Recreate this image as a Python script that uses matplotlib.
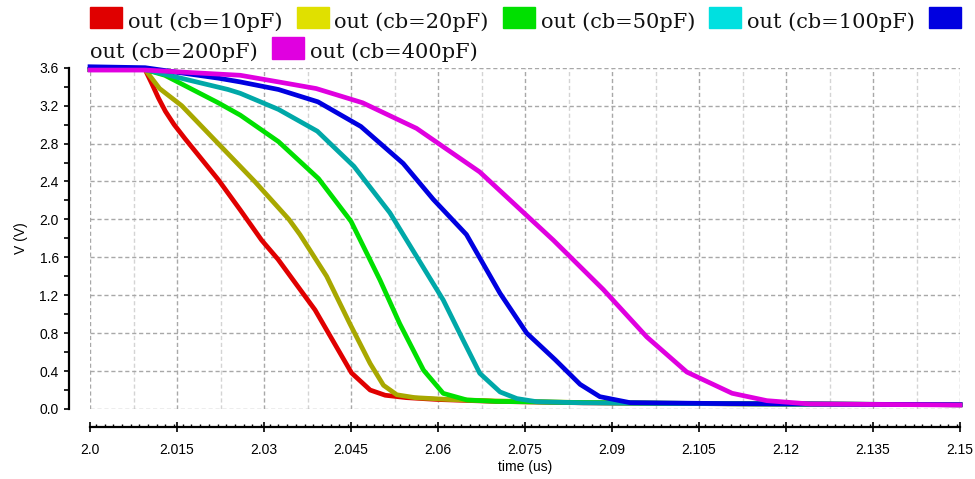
import numpy as np
import matplotlib
matplotlib.use("Agg")
import matplotlib.pyplot as plt
from matplotlib.patches import Rectangle
from matplotlib.ticker import MultipleLocator, FixedLocator

# transient response of "out" for several bus capacitances (time in us, volts)
t_10 = [2.0, 2.0095, 2.0106, 2.0118, 2.013, 2.0145, 2.0164, 2.0221, 2.0259, 2.0296,
        2.0324, 2.0388, 2.0451, 2.0483, 2.0509, 2.0545, 2.06, 2.07, 2.085, 2.11, 2.15]
v_10 = [3.58, 3.58, 3.44, 3.28, 3.14, 3.00, 2.85, 2.42, 2.10, 1.78,
        1.58, 1.045, 0.38, 0.20, 0.145, 0.12, 0.10, 0.08, 0.065, 0.055, 0.045]

t_20 = [2.0, 2.0095, 2.012, 2.0158, 2.0221, 2.0284, 2.0343, 2.0362, 2.0408, 2.0448,
        2.0483, 2.0506, 2.0529, 2.056, 2.062, 2.07, 2.085, 2.11, 2.15]
v_20 = [3.58, 3.58, 3.38, 3.20, 2.80, 2.40, 2.00, 1.84, 1.40, 0.90,
        0.48, 0.25, 0.15, 0.12, 0.10, 0.085, 0.068, 0.056, 0.045]

t_50 = [2.0, 2.0095, 2.0129, 2.0221, 2.0259, 2.0325, 2.0394, 2.045, 2.05, 2.0534,
        2.0575, 2.0609, 2.065, 2.07, 2.085, 2.11, 2.15]
v_50 = [3.58, 3.58, 3.52, 3.23, 3.10, 2.82, 2.43, 1.98, 1.36, 0.90,
        0.41, 0.165, 0.095, 0.08, 0.068, 0.056, 0.045]

t_100 = [2.0, 2.0095, 2.0238, 2.0259, 2.0325, 2.0392, 2.0455, 2.0517, 2.0563, 2.0609,
         2.0643, 2.0672, 2.0707, 2.0736, 2.077, 2.085, 2.11, 2.15]
v_100 = [3.58, 3.58, 3.37, 3.33, 3.16, 2.93, 2.56, 2.07, 1.61, 1.15,
         0.73, 0.377, 0.18, 0.11, 0.077, 0.065, 0.055, 0.045]

t_200 = [2.0, 2.0095, 2.0221, 2.0259, 2.0325, 2.0393, 2.0467, 2.054, 2.0592, 2.0649,
         2.0707, 2.0753, 2.0802, 2.0845, 2.0879, 2.0931, 2.11, 2.15]
v_200 = [3.61, 3.60, 3.49, 3.45, 3.37, 3.24, 2.98, 2.59, 2.21, 1.84,
         1.22, 0.80, 0.52, 0.26, 0.13, 0.067, 0.057, 0.045]

t_400 = [2.0, 2.0095, 2.0259, 2.0325, 2.039, 2.047, 2.0563, 2.0672, 2.0799, 2.0885,
         2.096, 2.1029, 2.1107, 2.1167, 2.1241, 2.15]
v_400 = [3.575, 3.575, 3.52, 3.45, 3.38, 3.23, 2.96, 2.50, 1.78, 1.26,
         0.76, 0.39, 0.166, 0.088, 0.053, 0.042]

labels = ["out (cb=10pF)", "out (cb=20pF)", "out (cb=50pF)",
          "out (cb=100pF)", "out (cb=200pF)", "out (cb=400pF)"]
line_colors = ["#e00000", "#a8a800", "#00e000", "#00a8a8", "#0000e0", "#e000e0"]
key_colors = ["#e00000", "#e0e000", "#00e000", "#00e0e0", "#0000e0", "#e000e0"]

x_ticks = [2.0, 2.015, 2.03, 2.045, 2.06, 2.075, 2.09, 2.105, 2.12, 2.135, 2.15]
x_ticklabels = ["2.0", "2.015", "2.03", "2.045", "2.06", "2.075",
                "2.09", "2.105", "2.12", "2.135", "2.15"]
y_ticks = [0.0, 0.4, 0.8, 1.2, 1.6, 2.0, 2.4, 2.8, 3.2, 3.6]

series = [(t_10, v_10), (t_20, v_20), (t_50, v_50),
          (t_100, v_100), (t_200, v_200), (t_400, v_400)]

plt.rcParams["font.family"] = ["Liberation Sans", "DejaVu Sans"]
plt.rcParams["font.size"] = 10

W, H = 975, 479
fig = plt.figure(figsize=(W / 100, H / 100), dpi=100)
ax = fig.add_axes([90 / W, 1 - 409 / H, 870 / W, (409 - 67.7) / H])

for (t, v), c in zip(series, line_colors):
    ax.plot(t, v, color=c, lw=3.4, clip_on=False, zorder=3)

ax.set_xlim(2.0, 2.15)
ax.set_ylim(0.0, 3.6)

ax.xaxis.set_major_locator(FixedLocator(x_ticks))
ax.set_xticklabels(x_ticklabels)
ax.xaxis.set_minor_locator(MultipleLocator(0.0015))
ax.yaxis.set_major_locator(FixedLocator(y_ticks))
ax.set_yticklabels([f"{y:.1f}" for y in y_ticks])
ax.yaxis.set_minor_locator(MultipleLocator(0.2))

ax.tick_params(axis="x", which="major", direction="inout", length=7, width=1.2,
               pad=8, labelsize=10)
ax.tick_params(axis="x", which="minor", direction="in", length=2.5, width=1)
ax.tick_params(axis="y", which="both", direction="out", length=3.5, width=1.2,
               pad=4, labelsize=10)

for side in ["top", "right"]:
    ax.spines[side].set_visible(False)
ax.spines["left"].set_position(("outward", 15))
ax.spines["bottom"].set_position(("outward", 13))
ax.spines["left"].set_linewidth(1.6)
ax.spines["bottom"].set_linewidth(1.6)

# dashed grid: darker lines on the labelled ticks, lighter ones halfway between
dash = (0, (3, 2))
ax.grid(True, which="major", color="#a8a8a8", linestyle=dash, linewidth=1, zorder=0)
for xm in np.arange(2.0075, 2.15, 0.015):
    ax.axvline(xm, color="#d4d4d4", linestyle=dash, linewidth=1, zorder=0)
ax.set_axisbelow(True)

ax.set_xlabel("time (us)", fontsize=10, labelpad=2)
ax.set_ylabel("V (V)", fontsize=10, labelpad=8)

# legend laid out as a flowing row of swatches and labels across the top
renderer = fig.canvas.get_renderer()
x, row = 90.0, 0
row_gap = 30.5
base0 = 27.5
x_max = 968
for lab, c in zip(labels, key_colors):
    if x + 32 > x_max:
        x, row = 90.0, row + 1
    base = base0 + row * row_gap
    fig.patches.append(Rectangle((x / W, 1 - (base + 0.5) / H), 32 / W, 21.5 / H,
                                 transform=fig.transFigure, color=c, figure=fig))
    x += 32 + 6
    txt = fig.text(x / W, 1 - base / H, lab, fontfamily="DejaVu Serif",
                   fontsize=15, va="baseline", ha="left", color="#111111")
    w = txt.get_window_extent(renderer=renderer).width
    if x + w > x_max:
        x, row = 90.0, row + 1
        base = base0 + row * row_gap
        txt.set_position((x / W, 1 - base / H))
    x += w + 14

fig.savefig("out.png", dpi=100)
